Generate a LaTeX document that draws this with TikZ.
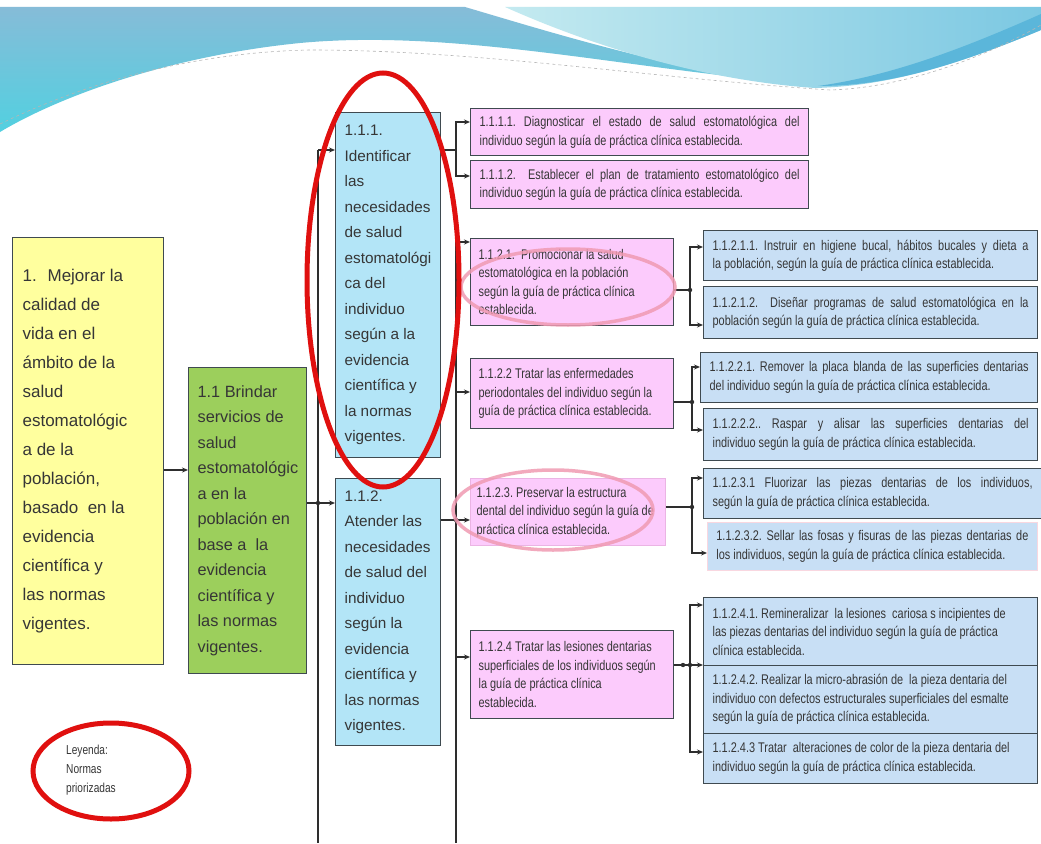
\documentclass[tikz,border=0pt]{standalone}
\usepackage{fontspec}
\setmainfont{Liberation Sans}
\newfontfamily\narrowfont{Liberation Sans}[FakeStretch=0.78]
\usetikzlibrary{arrows.meta,calc}
\definecolor{yelfill}{HTML}{FFFF9E}
\definecolor{grnfill}{HTML}{9CCF5C}
\definecolor{cyanfill}{HTML}{B3E5F7}
\definecolor{pinkfill}{HTML}{FCCBFC}
\definecolor{bluefill}{HTML}{C8DFF5}
\definecolor{boxline}{HTML}{3F4A50}
\definecolor{paleline}{HTML}{EBB4E4}
\definecolor{txtgray}{HTML}{363636}
\definecolor{linegray}{HTML}{2E2E2E}
\definecolor{redmark}{HTML}{E0100F}
\definecolor{pinkmark}{HTML}{F09AB2}
\definecolor{wavetop}{HTML}{86BCD8}
\definecolor{wavelow}{HTML}{52D0E0}
\definecolor{wavelight}{HTML}{C4EAF0}
\definecolor{waveright}{HTML}{7CC8E2}
\definecolor{wavestripe}{HTML}{5BB6DA}
\hyphenpenalty=10000
\exhyphenpenalty=10000
\tolerance=9999
\frenchspacing

\begin{document}
\begin{tikzpicture}[x=1pt,y=-1pt,
  boxbase/.style={draw=boxline, line width=1.2pt, anchor=north west, inner ysep=2pt, text=txtgray},
  bigbox/.style={boxbase, align=flush left, inner xsep=9pt},
  smallbox/.style={boxbase, inner xsep=9pt, font=\narrowfont\fontsize{14}{18.5}\selectfont},
  pinkbox/.style={smallbox, fill=pinkfill, align=flush left},
  bluebox/.style={smallbox, fill=bluefill, align=justify},
  trunk/.style={draw=linegray, line width=1.1pt},
  arr/.style={trunk, -{Stealth[length=6pt,width=5pt]}},
  jdot/.style={fill=linegray}
]
\useasboundingbox (0,0) rectangle (1041,843);
\fill[white] (0,0) rectangle (1041,843);

% waves on top
\shade[top color=wavetop, bottom color=wavelow] (0,7) -- (465,7) .. controls (560,35) and (690,76) .. (812,84) .. controls (640,72) and (460,28) .. (300,43) .. controls (170,56) and (60,96) .. (0,132) -- cycle;
\shade[left color=wavelight, right color=waveright] (505,7) -- (1041,7) -- (1041,30) .. controls (950,68) and (885,86) .. (815,88) .. controls (700,80) and (590,45) .. (505,7) -- cycle;
\fill[wavestripe] (1041,14) .. controls (960,50) and (890,76) .. (818,86) .. controls (885,86) and (950,68) .. (1041,30) -- cycle;
\draw[linegray!35, dashed, line width=0.6pt] (0,124) .. controls (90,80) and (200,52) .. (310,50) .. controls (480,50) and (650,78) .. (830,90) .. controls (900,88) and (980,60) .. (1041,25);

% level 1 and 2
\node[bigbox, fill=yelfill, inner xsep=10pt, text width=131pt, minimum height=427pt,
  font=\fontsize{17}{29}\selectfont] (yel) at (12,237)
  {\hangindent=25pt\hangafter=1 \makebox[25pt][l]{1.}Mejorar la\\calidad de\\vida en el\\ámbito de la\\salud\\estomatológic\\a de la\\población,\\basado~ en la\\evidencia\\científica y\\las normas\\vigentes.};
\node[bigbox, fill=grnfill, text width=100pt, minimum height=306pt,
  font=\fontsize{16.3}{25.5}\selectfont] (grn) at (188,367)
  {1.1 Brindar\\servicios de\\salud\\estomatológic\\a en la\\población en\\base a~ la\\evidencia\\científica y\\las normas\\vigentes.};

% level 3
\node[bigbox, fill=cyanfill, text width=87pt, minimum height=345pt,
  font=\fontsize{15.3}{25.5}\selectfont] (n111) at (335,112)
  {1.1.1.\\Identificar\\las\\necesidades\\de salud\\estomatológi\\ca del\\individuo\\según a la\\evidencia\\científica y\\la normas\\vigentes.};
\node[bigbox, fill=cyanfill, text width=87pt, minimum height=267pt,
  font=\fontsize{15.3}{25.5}\selectfont] (n112) at (335,478)
  {1.1.2.\\Atender las\\necesidades\\de salud del\\individuo\\según la\\evidencia\\científica y\\las normas\\vigentes.};

% level 4
\node[pinkbox, align=justify, text width=320pt, minimum height=47pt] (p1111) at (470,108)
  {1.1.1.1. Diagnosticar el estado de salud estomatológica del\linebreak individuo según la guía de práctica clínica establecida.};
\node[pinkbox, align=justify, text width=320pt, minimum height=48pt] (p1112) at (470,160)
  {1.1.1.2.~ Establecer el plan de tratamiento estomatológico del\linebreak individuo según la guía de práctica clínica establecida.};
\node[pinkbox, inner xsep=8pt, text width=187pt, minimum height=87pt] (p1121) at (470,238)
  {1.1.2.1.~ Promocionar la salud\\estomatológica en la población\\según la guía de práctica clínica\\establecida.};
\node[pinkbox, inner xsep=8pt, text width=187pt, minimum height=70pt] (p1122) at (470,358)
  {1.1.2.2 Tratar las enfermedades\\periodontales del individuo según la\\guía de práctica clínica establecida.};
\node[pinkbox, draw=paleline, inner xsep=6pt, text width=183pt, minimum height=67pt] (p1123) at (470,478)
  {1.1.2.3. Preservar la estructura\\dental del individuo según la guía de\\práctica clínica establecida.};
\node[pinkbox, inner xsep=8pt, text width=187pt, minimum height=88pt] (p1124) at (470,630)
  {1.1.2.4 Tratar las lesiones dentarias\\superficiales de los individuos según\\la guía de práctica clínica\\establecida.};

% level 5
\node[bluebox, text width=316pt, minimum height=50pt] (q11211) at (703,230)
  {1.1.2.1.1. Instruir en higiene bucal, hábitos bucales y dieta a\linebreak la población, según la guía de práctica clínica establecida.};
\node[bluebox, text width=316pt, minimum height=52pt] (q11212) at (703,286)
  {1.1.2.1.2.~ Diseñar programas de salud estomatológica en la\linebreak población según la guía de práctica clínica establecida.};
\node[bluebox, text width=319pt, minimum height=50pt] (q11221) at (700,352)
  {1.1.2.2.1. Remover la placa blanda de las superficies dentarias\linebreak del individuo según la guía de práctica clínica establecida.};
\node[bluebox, text width=316pt, minimum height=52pt] (q11222) at (703,408)
  {1.1.2.2.2.. Raspar y alisar las superficies dentarias del\linebreak individuo según la guía de práctica clínica establecida.};
\node[bluebox, text width=320pt, minimum height=50pt] (q11231) at (703,468)
  {1.1.2.3.1 Fluorizar las piezas dentarias de los individuos,\linebreak según la guía de práctica clínica establecida.};
\node[bluebox, draw=pinkmark!40, line width=0.8pt, text width=312pt, minimum height=48pt] (q11232) at (707,522)
  {1.1.2.3.2. Sellar las fosas y fisuras de las piezas dentarias de\linebreak los individuos, según la guía de práctica clínica establecida.};
\node[bluebox, align=flush left, text width=316pt, minimum height=68pt] (q11241) at (703,597)
  {1.1.2.4.1. Remineralizar~ la lesiones~ cariosa s incipientes de\\las piezas dentarias del individuo según la guía de práctica\\clínica establecida.};
\node[bluebox, align=flush left, text width=316pt, minimum height=68pt] (q11242) at (703,665)
  {1.1.2.4.2. Realizar la micro-abrasión de~ la pieza dentaria del\\individuo con defectos estructurales superficiales del esmalte\\según la guía de práctica clínica establecida.};
\node[bluebox, align=flush left, text width=316pt, minimum height=50pt] (q11243) at (703,733)
  {1.1.2.4.3 Tratar~ alteraciones de color de la pieza dentaria del\\individuo según la guía de práctica clínica establecida.};

% connectors
\draw[arr] (yel.east |- 0,470) -- (grn.west |- 0,470);

\draw[trunk] (318,150) coordinate (ta) -- (318,843) coordinate (tb);
\draw[arr] (ta) -- (n111.west |- ta);
\draw[trunk] (grn.east |- 0,503) -- (318,503) coordinate (tc);
\draw[arr] (tc) -- (n112.west |- tc);
\fill[jdot] (tc) circle (2.2pt);

\draw[trunk] (n111.east |- 0,150) -- (456,150) coordinate (ka);
\draw[arr] (ka) |- (p1111.west |- 0,122);
\draw[arr] (ka) |- (p1112.west |- 0,176);

\draw[trunk] (456,242) coordinate (kb) -- (456,843);
\draw[arr] (kb) -- (p1121.west |- kb);
\draw[arr] (456,392) coordinate (kc) -- (p1122.west |- kc);
\draw[trunk] (n112.east |- 0,520) -- (456,520) coordinate (kd);
\draw[arr] (kd) -- (p1123.west |- kd);
\fill[jdot] (kd) circle (2.2pt);
\draw[arr] (456,657) coordinate (ke) -- (p1124.west |- ke);

\draw[trunk] (p1121.east |- 0,290) -- (690,290) coordinate (b1);
\draw[arr] (b1) |- (q11211.west |- 0,247);
\draw[arr] (b1) |- (q11212.west |- 0,325);
\fill[jdot] (b1) circle (2.2pt);

\draw[trunk] (p1122.east |- 0,402) -- (692,402) coordinate (b2);
\draw[arr] (b2) |- (q11221.west |- 0,367);
\draw[arr] (b2) |- (q11222.west |- 0,430);
\fill[jdot] (b2) circle (2.2pt);

\draw[trunk] (p1123.east |- 0,507) -- (692,507) coordinate (b3);
\draw[arr] (b3) |- (q11231.west |- 0,478);
\draw[arr] (b3) |- (q11232.west |- 0,553);
\fill[jdot] (b3) circle (2.2pt);

\draw[trunk] (p1124.east |- 0,665) -- (690,665) coordinate (b4);
\draw[arr] (b4) |- (q11241.west |- 0,605);
\draw[arr] (b4) -- (q11242.west |- b4);
\draw[arr] (b4) |- (q11243.west |- 0,752);
\fill[jdot] (b4) circle (2.2pt);
\fill[jdot] (683,665) circle (2.2pt);

% marks
\draw[pinkmark, opacity=0.85, line width=3.5pt] (568,287) ellipse [x radius=107pt, y radius=38pt];
\draw[pinkmark, opacity=0.85, line width=3.5pt] (553,510) ellipse [x radius=100pt, y radius=40pt];
\draw[redmark, line width=5pt] (383,280) ellipse [x radius=76pt, y radius=207pt];
\draw[redmark, line width=5pt] (111,771) ellipse [x radius=78pt, y radius=48pt];
\node[anchor=north west, align=left, inner sep=0pt, text=txtgray,
  font=\narrowfont\fontsize{13}{19}\selectfont] (ley) at (66,745) {Leyenda:\\Normas\\priorizadas};
\end{tikzpicture}
\end{document}
